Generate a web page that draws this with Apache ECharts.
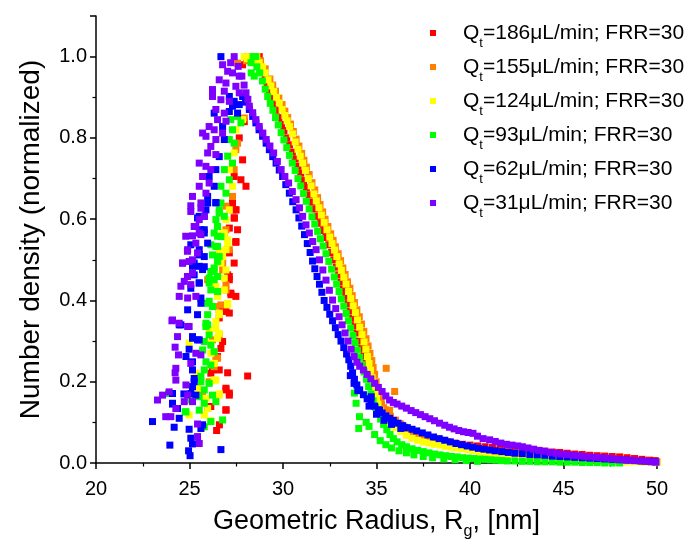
<!DOCTYPE html>
<html><head><meta charset="utf-8">
<script src="https://cdn.jsdelivr.net/npm/echarts@6.0.0/dist/echarts.min.js"></script>
<style>html,body{margin:0;padding:0;background:#fff}#c{width:693px;height:550px}</style>
</head><body><div id="c"></div>
<script>
const seriesNames = ['Qt=186μL/min; FRR=30','Qt=155μL/min; FRR=30','Qt=124μL/min; FRR=30','Qt=93μL/min; FRR=30','Qt=62μL/min; FRR=30','Qt=31μL/min; FRR=30'];
const seriesColors = ['#ff0000','#ff8000','#ffff00','#00ff00','#0000ff','#8000ff'];
const xAxisRange = [20, 50];
const yAxisRange = [0, 1.1];

// flat [x, y, x, y, ...] lists
const q186 = [
27.31,0.623, 27.48,0.623, 27.40,0.603, 27.13,0.578, 27.48,0.543, 27.13,0.517, 27.04,0.463, 27.13,0.451, 27.22,0.414, 27.48,0.410, 26.59,0.377, 26.59,0.357,
26.77,0.299, 26.68,0.282, 26.50,0.262, 26.23,0.229, 26.59,0.229, 27.04,0.222, 26.14,0.221, 26.95,0.184, 27.13,0.167, 26.14,0.139, 26.95,0.130, 28.11,0.214,
26.77,0.496, 27.21,0.418, 27.13,0.369, 26.95,0.373, 26.95,0.180, 27.13,0.172, 26.95,0.131, 25.97,0.135,
27.84,0.746, 27.39,0.705, 27.75,0.697, 28.02,0.681, 27.30,0.640, 27.48,0.623, 27.39,0.603, 27.57,0.574, 27.48,0.545, 27.04,0.525, 27.39,0.492, 27.13,0.459,
27.66,0.800, 27.93,0.840, 26.60,0.094, 26.45,0.080,
27.84,0.980, 28.10,1.000, 28.29,0.990, 28.50,0.995, 28.73,1.000,
28.90,0.965, 29.05,0.950, 29.15,0.935, 29.27,0.915, 29.40,0.898, 29.52,0.882, 29.63,0.868, 29.78,0.850, 29.92,0.833, 30.05,0.818, 30.20,0.800, 30.35,0.783,
30.50,0.765, 30.65,0.748, 30.80,0.730, 30.95,0.713, 31.10,0.695, 31.25,0.678, 31.40,0.660, 31.55,0.642, 31.70,0.625, 31.85,0.607, 32.00,0.590, 32.15,0.572,
32.30,0.555, 32.45,0.537, 32.60,0.518, 32.72,0.500, 32.85,0.482, 32.98,0.463, 33.10,0.445, 33.22,0.427, 33.35,0.410, 33.48,0.392, 33.60,0.374, 33.72,0.356,
33.85,0.338, 33.97,0.320, 34.08,0.300, 34.20,0.282, 34.32,0.264, 34.45,0.246, 34.57,0.228, 34.70,0.210, 34.82,0.192, 34.95,0.175, 35.10,0.158, 35.25,0.143,
35.45,0.130, 35.70,0.117, 36.00,0.105, 36.25,0.096, 36.50,0.088, 36.75,0.082, 37.00,0.076, 37.25,0.071, 37.50,0.067, 37.75,0.063, 38.00,0.060, 38.40,0.056,
38.80,0.052, 39.20,0.049, 39.60,0.046, 40.00,0.044, 40.40,0.042, 40.80,0.040, 41.20,0.038, 41.60,0.037, 42.00,0.035, 42.40,0.034, 42.80,0.033, 43.20,0.032,
43.60,0.031, 44.00,0.029, 44.40,0.027, 44.80,0.026, 45.20,0.024, 45.60,0.022, 46.00,0.021, 46.40,0.019, 46.80,0.018, 47.20,0.017, 47.60,0.016, 48.00,0.015,
48.40,0.013, 48.80,0.011, 49.20,0.009, 49.60,0.007, 49.90,0.006
];
const q155 = [
26.95,0.632, 26.86,0.566, 26.77,0.492, 26.95,0.426, 26.68,0.389, 25.97,0.451, 26.59,0.315, 26.41,0.258, 26.32,0.237, 25.70,0.176,
27.93,0.849, 27.57,0.787, 27.48,0.771, 27.39,0.722, 27.30,0.656, 26.95,0.574, 27.13,0.525, 26.77,0.475, 27.57,0.984,
26.68,0.508, 26.95,0.438, 26.41,0.385, 26.50,0.258, 26.23,0.303, 26.05,0.200,
28.05,0.990, 28.30,1.000, 28.55,0.995, 28.80,0.990,
29.05,0.970, 29.30,0.945, 29.45,0.930, 29.60,0.915, 29.78,0.898, 29.95,0.882, 30.10,0.866, 30.25,0.850, 30.40,0.834, 30.55,0.816, 30.70,0.797, 30.85,0.780,
31.00,0.762, 31.12,0.745, 31.25,0.728, 31.40,0.710, 31.55,0.690, 31.70,0.672, 31.85,0.653, 31.98,0.636, 32.12,0.618, 32.25,0.600, 32.40,0.582, 32.55,0.564,
32.68,0.548, 32.80,0.532, 32.95,0.515, 33.08,0.498, 33.20,0.480, 33.32,0.464, 33.45,0.446, 33.58,0.430, 33.70,0.412, 33.82,0.395, 33.95,0.377, 34.08,0.360,
34.20,0.342, 34.32,0.324, 34.44,0.306, 34.55,0.288, 34.65,0.270, 34.75,0.252, 34.82,0.235, 34.90,0.218, 34.98,0.200, 35.06,0.183, 35.15,0.166, 35.25,0.150,
35.38,0.136, 35.55,0.124, 35.75,0.114, 36.00,0.105, 36.30,0.095, 36.60,0.085, 36.90,0.078, 37.20,0.072, 37.50,0.067, 37.80,0.062, 38.10,0.058, 38.40,0.054,
38.80,0.050, 39.20,0.046, 39.60,0.043, 40.00,0.040, 40.50,0.036, 41.00,0.032, 41.50,0.029, 42.00,0.027, 42.50,0.025, 43.00,0.023, 43.50,0.021, 44.00,0.019,
44.50,0.017, 45.00,0.015, 45.50,0.014, 46.00,0.012, 46.50,0.011, 47.00,0.010, 47.50,0.008, 48.00,0.007, 48.50,0.006, 49.00,0.005, 49.50,0.004, 50.00,0.003,
35.52,0.233, 35.97,0.176, 35.70,0.130
];
const q124 = [
26.95,0.599, 26.77,0.566, 27.04,0.549, 26.59,0.521, 26.95,0.525, 26.68,0.492, 26.41,0.435, 26.86,0.426, 26.50,0.410, 27.04,0.389, 26.59,0.365, 26.41,0.348,
26.41,0.331, 26.59,0.319, 26.50,0.307, 24.98,0.295, 26.32,0.245, 26.14,0.270, 25.34,0.221, 25.43,0.184, 26.32,0.204, 26.59,0.170, 25.88,0.159, 24.98,0.118,
25.97,0.134, 26.14,0.104,
27.39,0.763, 27.13,0.722, 27.30,0.681, 27.13,0.623, 26.86,0.566, 27.04,0.541, 26.77,0.508, 26.95,0.475, 26.86,0.455, 27.84,0.845, 27.48,0.820,
27.04,0.393, 26.59,0.369, 26.05,0.328, 26.14,0.295, 26.32,0.245, 26.41,0.204, 26.59,0.167, 26.14,0.102, 25.79,0.118,
27.93,1.000, 28.10,0.995, 28.20,1.000, 28.40,0.990, 28.60,1.000, 28.73,0.985,
28.90,0.975, 29.05,0.960, 29.20,0.943, 29.35,0.928, 29.50,0.914, 29.65,0.900, 29.80,0.886, 29.95,0.870, 30.10,0.855, 30.22,0.842, 30.35,0.828, 30.50,0.810,
30.65,0.790, 30.80,0.772, 30.92,0.755, 31.05,0.738, 31.20,0.720, 31.35,0.700, 31.50,0.682, 31.65,0.662, 31.78,0.645, 31.92,0.628, 32.05,0.610, 32.20,0.592,
32.35,0.574, 32.50,0.556, 32.62,0.540, 32.75,0.524, 32.88,0.508, 33.00,0.490, 33.12,0.474, 33.25,0.457, 33.37,0.440, 33.50,0.422, 33.62,0.405, 33.75,0.387,
33.87,0.370, 33.98,0.352, 34.10,0.334, 34.22,0.316, 34.33,0.298, 34.43,0.280, 34.52,0.262, 34.60,0.245, 34.68,0.228, 34.76,0.210, 34.84,0.193, 34.92,0.176,
35.00,0.160, 35.08,0.145, 35.18,0.130, 35.30,0.117, 35.45,0.106, 35.65,0.098, 35.85,0.092, 36.05,0.087, 36.30,0.078, 36.60,0.068, 36.90,0.061, 37.20,0.056,
37.50,0.052, 37.80,0.049, 38.10,0.046, 38.40,0.044, 38.70,0.041, 39.00,0.039, 39.30,0.037, 39.60,0.035, 39.90,0.033, 40.20,0.031, 40.50,0.028, 40.80,0.025,
41.10,0.022, 41.40,0.020, 41.70,0.019, 42.00,0.018, 42.40,0.017, 42.80,0.015, 43.20,0.014, 43.60,0.013, 44.00,0.012, 44.40,0.011, 44.80,0.010, 45.20,0.009,
45.60,0.008, 46.00,0.007, 46.40,0.006, 46.80,0.005, 47.20,0.005, 47.60,0.004, 48.00,0.004, 48.40,0.003, 48.80,0.003, 49.20,0.002, 49.60,0.002, 50.00,0.001
];
const q93 = [
26.68,0.640, 26.59,0.615, 26.41,0.599, 26.50,0.582, 26.32,0.566, 26.50,0.558, 26.14,0.537, 26.50,0.533, 26.23,0.512, 26.50,0.496, 26.32,0.480, 26.14,0.471,
26.05,0.455, 26.32,0.451, 26.14,0.426, 26.50,0.422, 26.05,0.398, 26.23,0.385, 25.97,0.365, 25.88,0.344,
25.97,0.340, 26.05,0.315, 25.79,0.299, 26.14,0.290, 26.32,0.274, 25.88,0.249, 26.14,0.241, 25.79,0.229, 25.61,0.200, 26.05,0.196, 25.79,0.180, 26.23,0.167,
26.41,0.151, 25.07,0.155, 24.81,0.126, 25.52,0.130, 25.79,0.089, 26.77,0.106, 23.88,0.171,
27.57,0.853, 27.75,0.837, 27.21,0.845, 27.30,0.820, 27.13,0.796, 27.39,0.787, 27.04,0.755, 27.30,0.738, 26.86,0.722, 27.13,0.697, 26.68,0.681, 26.95,0.664,
26.59,0.623, 26.86,0.607, 26.50,0.582, 26.68,0.557, 26.41,0.533, 26.59,0.508, 26.32,0.475, 26.50,0.459,
26.23,0.471, 26.05,0.443, 25.97,0.393, 25.88,0.336, 25.70,0.278, 25.61,0.213, 25.52,0.163, 25.79,0.147, 26.14,0.102, 24.77,0.126,
28.29,0.985, 28.40,1.000, 28.55,1.000, 28.46,0.952, 28.30,0.960,
28.60,0.975, 28.75,0.960, 28.90,0.940, 29.05,0.920, 29.18,0.902, 29.32,0.885, 29.46,0.868, 29.60,0.850, 29.75,0.832, 29.90,0.813, 30.05,0.795, 30.20,0.776,
30.35,0.757, 30.50,0.738, 30.65,0.720, 30.80,0.700, 30.95,0.682, 31.10,0.663, 31.25,0.644, 31.40,0.625, 31.55,0.606, 31.70,0.588, 31.85,0.570, 32.00,0.552,
32.15,0.534, 32.30,0.515, 32.45,0.496, 32.60,0.477, 32.74,0.458, 32.87,0.440, 33.00,0.422, 33.12,0.404, 33.25,0.386, 33.38,0.368, 33.50,0.350, 33.62,0.332,
33.74,0.314, 33.86,0.296, 33.98,0.278, 34.10,0.260, 34.22,0.242, 34.34,0.224, 34.46,0.206, 34.58,0.188, 34.70,0.170, 34.82,0.153, 34.95,0.137, 35.08,0.122,
35.22,0.108, 35.38,0.095, 35.55,0.082, 35.72,0.070, 35.90,0.060, 36.10,0.052, 36.35,0.045, 36.60,0.040, 36.90,0.035, 37.20,0.031, 37.50,0.028, 37.80,0.025,
38.10,0.022, 38.40,0.020, 38.70,0.018, 39.00,0.016, 39.30,0.015, 39.60,0.013, 39.90,0.012, 40.20,0.011, 40.50,0.010, 40.80,0.009, 41.10,0.008, 41.40,0.007,
41.70,0.006, 42.00,0.005, 42.40,0.005, 42.80,0.004, 43.20,0.004, 43.60,0.003, 44.00,0.003, 44.40,0.003, 44.80,0.002, 45.20,0.002, 45.60,0.002, 46.00,0.001,
46.40,0.001, 46.80,0.001, 47.20,0.000, 47.60,0.000, 48.00,0.000,
33.82,0.172, 33.91,0.147, 34.09,0.114, 34.05,0.085, 34.45,0.100, 34.60,0.090, 34.90,0.070, 35.20,0.055, 35.50,0.045, 35.80,0.037, 36.20,0.030, 36.60,0.025,
37.00,0.020, 37.50,0.016, 38.00,0.013, 38.60,0.010, 39.20,0.008, 39.80,0.006, 40.40,0.004
];
const q62 = [
25.97,0.640, 26.41,0.641, 25.43,0.603, 25.79,0.607, 25.61,0.574, 25.79,0.566, 25.07,0.537, 25.52,0.512, 25.79,0.508, 25.16,0.484, 25.52,0.484, 25.25,0.463,
25.52,0.443, 25.07,0.430, 25.61,0.406, 24.90,0.377, 25.43,0.365, 24.54,0.340,
24.45,0.340, 25.16,0.311, 25.43,0.303, 24.98,0.280, 24.81,0.262, 25.16,0.249, 25.25,0.208, 25.16,0.188, 25.07,0.171, 25.34,0.167, 24.09,0.171, 24.09,0.147,
24.36,0.134, 24.45,0.110, 23.02,0.102, 24.18,0.088, 24.98,0.083, 25.61,0.085, 25.07,0.061, 25.16,0.047, 23.95,0.044, 26.68,0.033, 25.03,0.018,
27.13,0.902, 27.30,0.878, 26.32,0.861, 26.77,0.828, 26.86,0.796, 26.59,0.754, 26.41,0.722, 26.05,0.705, 26.32,0.681, 25.97,0.656, 26.41,0.640, 25.88,0.623,
25.52,0.607, 25.79,0.574, 25.97,0.541, 25.52,0.525, 25.25,0.492, 25.70,0.476,
27.39,0.890, 27.66,0.882, 27.57,0.861, 27.13,0.865, 26.68,1.000,
25.79,0.483, 25.52,0.443, 25.61,0.393, 25.16,0.307, 25.52,0.303, 25.16,0.229, 25.25,0.200, 24.70,0.170, 24.09,0.145, 25.70,0.094, 24.95,0.030,
27.84,0.902, 28.00,0.888, 28.20,0.870, 28.38,0.853, 28.55,0.837, 28.72,0.820, 28.91,0.804, 29.10,0.787, 29.27,0.771, 29.45,0.754, 29.63,0.738, 29.80,0.721,
29.98,0.705, 30.15,0.685, 30.34,0.664, 30.52,0.643, 30.70,0.623, 30.85,0.603, 31.00,0.583, 31.15,0.562, 31.30,0.540, 31.45,0.518, 31.58,0.497, 31.70,0.478,
31.82,0.459, 31.95,0.440, 32.08,0.420, 32.20,0.400, 32.35,0.383, 32.50,0.366, 32.65,0.350, 32.80,0.333, 32.95,0.316, 33.10,0.300, 33.25,0.284, 33.40,0.268,
33.52,0.254, 33.62,0.238, 33.72,0.222, 33.82,0.206, 33.95,0.192, 34.10,0.180, 34.30,0.168, 34.50,0.158, 34.70,0.150, 34.90,0.140, 35.10,0.131, 35.30,0.123,
35.50,0.116, 35.70,0.110, 35.90,0.105, 36.15,0.098, 36.40,0.092, 36.65,0.087, 36.90,0.083, 37.15,0.079, 37.45,0.074, 37.75,0.069, 38.05,0.064, 38.35,0.060,
38.65,0.056, 38.95,0.052, 39.25,0.048, 39.55,0.045, 39.85,0.042, 40.15,0.039, 40.45,0.036, 40.75,0.034, 41.05,0.032, 41.35,0.030, 41.70,0.028, 42.05,0.026,
42.40,0.024, 42.80,0.023, 43.20,0.021, 43.60,0.020, 44.00,0.019, 44.40,0.017, 44.80,0.016, 45.20,0.015, 45.60,0.014, 46.00,0.013, 46.40,0.012, 46.80,0.011,
47.20,0.010, 47.60,0.009, 48.00,0.008, 48.40,0.007, 48.80,0.006, 49.20,0.005, 49.60,0.004, 49.90,0.003,
33.60,0.215, 33.80,0.196, 34.00,0.178, 34.60,0.140, 35.00,0.120, 35.40,0.105, 35.80,0.095, 36.30,0.085, 34.72,0.163, 35.16,0.130
];
const q31 = [
25.07,0.633, 25.61,0.627, 25.52,0.599, 25.34,0.582, 25.16,0.559, 25.61,0.562, 24.90,0.525, 25.43,0.517, 24.63,0.492, 24.98,0.496, 25.16,0.467, 24.72,0.447,
24.54,0.435, 25.07,0.439, 24.45,0.410, 24.90,0.406, 25.34,0.410, 24.09,0.352, 24.45,0.344, 24.98,0.336,
24.06,0.350, 24.36,0.311, 24.23,0.285, 24.41,0.266, 24.27,0.233, 24.23,0.222, 24.27,0.204, 24.81,0.192, 23.91,0.175, 23.56,0.167, 23.29,0.155, 24.27,0.134,
23.73,0.114, 24.00,0.114, 24.72,0.151, 25.16,0.151, 25.43,0.096, 25.43,0.065, 25.52,0.048, 24.90,0.336, 25.34,0.270, 25.61,0.266, 25.07,0.245, 24.90,0.167,
26.77,0.980, 27.04,0.964, 27.30,0.960, 27.66,0.952, 26.59,0.943, 26.95,0.935, 27.48,0.927, 26.23,0.919, 26.86,0.915, 27.66,0.911, 26.23,0.902, 26.68,0.894,
27.13,0.890, 26.41,0.870, 26.86,0.861, 26.50,0.845, 26.95,0.841, 26.05,0.828, 26.32,0.820, 26.77,0.812, 25.88,0.804, 26.41,0.796, 25.70,0.812, 26.14,0.779,
25.97,0.763, 26.41,0.759, 25.52,0.738, 25.88,0.730, 26.14,0.722, 25.70,0.705, 26.05,0.689, 25.52,0.681, 25.88,0.664, 25.16,0.656, 25.61,0.640, 25.07,0.619,
25.79,0.607, 25.25,0.582, 25.52,0.566, 24.80,0.558, 25.34,0.541, 24.89,0.521, 25.16,0.500, 24.63,0.492, 24.89,0.459,
27.39,1.000, 27.20,0.985,
27.60,0.976, 27.80,0.952, 27.92,0.930, 28.02,0.911, 28.12,0.895, 28.20,0.878, 28.38,0.862, 28.55,0.845, 28.73,0.828, 28.92,0.812, 29.10,0.796, 29.30,0.780,
29.50,0.763, 29.70,0.742, 29.90,0.722, 30.10,0.705, 30.30,0.689, 30.50,0.668, 30.70,0.648, 30.88,0.628, 31.05,0.607, 31.23,0.586, 31.41,0.566, 31.59,0.545,
31.77,0.525, 31.95,0.500, 32.13,0.475, 32.30,0.450, 32.48,0.425, 32.65,0.401, 32.82,0.380, 33.00,0.360, 33.16,0.340, 33.32,0.320, 33.48,0.300, 33.64,0.280,
33.80,0.262, 33.95,0.248, 34.10,0.238, 34.30,0.229, 34.50,0.218, 34.70,0.207, 34.90,0.196, 35.10,0.186, 35.30,0.176, 35.50,0.165, 35.70,0.155, 35.90,0.149,
36.10,0.145, 36.35,0.140, 36.60,0.135, 36.85,0.129, 37.10,0.124, 37.35,0.119, 37.60,0.114, 37.85,0.109, 38.10,0.104, 38.37,0.098, 38.65,0.093, 38.90,0.088,
39.15,0.084, 39.40,0.080, 39.65,0.077, 39.90,0.075, 40.16,0.073, 40.40,0.066, 40.70,0.060, 41.05,0.057, 41.35,0.053, 41.65,0.049, 41.95,0.046, 42.25,0.044,
42.55,0.042, 42.80,0.040, 43.10,0.037, 43.40,0.034, 43.70,0.031, 44.00,0.029, 44.30,0.026, 44.60,0.024, 44.90,0.022, 45.20,0.021, 45.50,0.019, 45.80,0.018,
46.10,0.016, 46.40,0.015, 46.70,0.014, 47.00,0.013, 47.30,0.012, 47.60,0.011, 47.90,0.009, 48.20,0.008, 48.50,0.007, 48.80,0.006, 49.10,0.005, 49.40,0.004,
49.70,0.003, 49.95,0.002
];
const seriesValues = [q186, q155, q124, q93, q62, q31];

function toPairs(flat) {
  const out = [];
  for (let i = 0; i + 1 < flat.length; i += 2) out.push([flat[i], flat[i + 1]]);
  return out;
}

const FONT = 'Arial, "Liberation Sans", sans-serif';
const chart = echarts.init(document.getElementById('c'), null, { renderer: 'canvas' });

chart.setOption({
  animation: false,
  backgroundColor: '#ffffff',
  textStyle: { fontFamily: FONT, color: '#000' },
  grid: { left: 96, right: 36, top: 16, bottom: 87, containLabel: false },
  legend: {
    orient: 'vertical',
    left: 425,
    top: 11,
    itemGap: 0,
    itemWidth: 6,
    itemHeight: 6,
    icon: 'rect',
    selectedMode: false,
    data: seriesNames,
    formatter: function (name) { return '{q|Q}{t|t}{r|' + name.slice(2) + '}'; },
    textStyle: {
      fontFamily: FONT, color: '#000', fontSize: 21,
      rich: {
        q: { fontFamily: FONT, color: '#000', fontSize: 21, lineHeight: 21, verticalAlign: 'middle', padding: [0, 0, 0, 22] },
        t: { fontFamily: FONT, color: '#000', fontSize: 13, lineHeight: 13, verticalAlign: 'middle', padding: [21, 0, 0, 0] },
        r: { fontFamily: FONT, color: '#000', fontSize: 21, lineHeight: 21, verticalAlign: 'middle' }
      }
    }
  },
  xAxis: {
    type: 'value',
    min: xAxisRange[0], max: xAxisRange[1], interval: 5,
    name: '{a|Geometric Radius, R}{b|g}{a|, [nm]}',
    nameLocation: 'middle',
    nameGap: 41,
    nameTextStyle: {
      fontFamily: FONT, color: '#000', fontSize: 27,
      rich: {
        a: { fontFamily: FONT, color: '#000', fontSize: 27, lineHeight: 27, verticalAlign: 'middle' },
        b: { fontFamily: FONT, color: '#000', fontSize: 16, lineHeight: 16, verticalAlign: 'middle', padding: [20, 0, 0, 0] }
      }
    },
    axisLine: { show: true, onZero: false, lineStyle: { color: '#000', width: 1.5 } },
    axisTick: { show: true, inside: false, length: 6, lineStyle: { color: '#000', width: 1.5 } },
    minorTick: { show: true, splitNumber: 2, length: 3.5, lineStyle: { color: '#000', width: 1.2 } },
    axisLabel: { fontFamily: FONT, color: '#000', fontSize: 20, margin: 16 },
    splitLine: { show: false },
    minorSplitLine: { show: false }
  },
  yAxis: {
    type: 'value',
    min: yAxisRange[0], max: yAxisRange[1], interval: 0.2,
    name: 'Number density (normalized)',
    nameLocation: 'middle',
    nameGap: 51,
    nameTextStyle: { fontFamily: FONT, color: '#000', fontSize: 28 },
    axisLine: { show: true, onZero: false, lineStyle: { color: '#000', width: 1.5 } },
    axisTick: { show: true, inside: false, length: 6, lineStyle: { color: '#000', width: 1.5 } },
    minorTick: { show: true, splitNumber: 2, length: 3.5, lineStyle: { color: '#000', width: 1.2 } },
    axisLabel: {
      fontFamily: FONT, color: '#000', fontSize: 20, margin: 9,
      formatter: function (v) { return v > 1.0001 ? '' : v.toFixed(1); }
    },
    splitLine: { show: false },
    minorSplitLine: { show: false }
  },
  series: seriesNames.map(function (name, i) {
    return {
      name: name,
      type: 'scatter',
      symbol: 'rect',
      symbolSize: 7,
      data: toPairs(seriesValues[i]),
      itemStyle: { color: seriesColors[i], opacity: 1 },
      emphasis: { disabled: true },
      silent: true,
      z: 2 + i
    };
  })
});
</script>
</body></html>
